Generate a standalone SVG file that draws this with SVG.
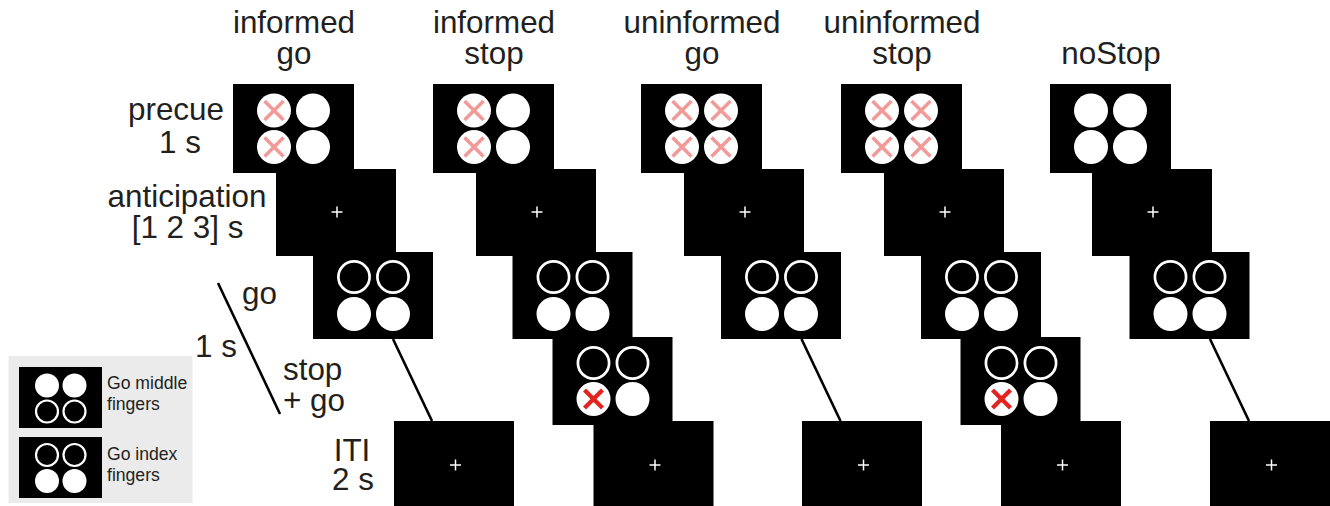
<svg xmlns="http://www.w3.org/2000/svg" xmlns:xlink="http://www.w3.org/1999/xlink" width="1330" height="506" viewBox="0 0 1330 506">
<style>
.lbl{font-family:"Liberation Sans",Arial,Helvetica,sans-serif;font-size:31.4px;fill:#231f20}
.mid{text-anchor:middle}
.leg{font-family:"Liberation Sans",Arial,Helvetica,sans-serif;font-size:17.6px;fill:#231f20}
.scr{fill:#000}
.dot{fill:#fff}
.ring{fill:none;stroke:#fff;stroke-width:2.7}
.ringS{fill:none;stroke:#fff;stroke-width:2.2}
.pinkx{stroke:#f29a98;stroke-width:3.6;fill:none}
.redx{stroke:#e3231f;stroke-width:4.2;fill:none}
.fix{stroke:#fff;stroke-width:1.5;fill:none}
.conn{stroke:#000;stroke-width:2.6;fill:none}
</style>
<defs>
<g id="px"><line class="pinkx" x1="-9.5" y1="-9.5" x2="9.5" y2="9.5"/><line class="pinkx" x1="-9.5" y1="9.5" x2="9.5" y2="-9.5"/></g>
<g id="rx"><line class="redx" x1="-9" y1="-9" x2="9" y2="9"/><line class="redx" x1="-9" y1="9" x2="9" y2="-9"/></g>
<g id="plus"><line class="fix" x1="-5.5" y1="0" x2="5.5" y2="0"/><line class="fix" x1="0" y1="-5.5" x2="0" y2="5.5"/></g>
<g id="precue">
<rect class="scr" x="0" y="0" width="121" height="89"/>
<circle class="dot" cx="41" cy="26.5" r="17"/><circle class="dot" cx="80" cy="26.5" r="17"/>
<circle class="dot" cx="41" cy="63" r="17"/><circle class="dot" cx="80" cy="63" r="17"/>
</g>
<g id="fixscr"><rect class="scr" x="0" y="0" width="120" height="87"/><use xlink:href="#plus" x="61" y="43"/></g>
<g id="goscr">
<rect class="scr" x="0" y="0" width="120" height="87"/>
<circle class="ring" cx="41" cy="25" r="15.6"/><circle class="ring" cx="80" cy="25" r="15.6"/>
<circle class="dot" cx="41" cy="62" r="17"/><circle class="dot" cx="80" cy="62" r="17"/>
</g>
<g id="stopscr">
<rect class="scr" x="0" y="0" width="120" height="88"/>
<circle class="ring" cx="41" cy="26" r="15.6"/><circle class="ring" cx="80" cy="26" r="15.6"/>
<circle class="dot" cx="41" cy="62" r="17"/><circle class="dot" cx="80" cy="62" r="17"/>
<use xlink:href="#rx" x="41" y="62"/>
</g>
<g id="itiscr"><rect class="scr" x="0" y="0" width="120" height="90"/><use xlink:href="#plus" x="61.5" y="44"/></g>
</defs>

<g id="row-labels">
<text class="lbl mid"><tspan x="176" y="120">precue</tspan><tspan x="180" y="153">1 s</tspan></text>
<text class="lbl mid"><tspan x="187" y="207">anticipation</tspan><tspan x="187.5" y="238">[1 2 3] s</tspan></text>
<text class="lbl" x="242" y="304">go</text>
<text class="lbl" x="195" y="357">1 s</text>
<text class="lbl"><tspan x="283" y="380">stop</tspan><tspan x="283" y="411">+ go</tspan></text>
<text class="lbl mid"><tspan x="352" y="461">ITI</tspan><tspan x="353" y="490">2 s</tspan></text>
<line class="conn" x1="218" y1="283" x2="280" y2="414"/>
</g>

<g id="col-informed-go">
<text class="lbl mid"><tspan x="294" y="33">informed</tspan><tspan x="294" y="63.5">go</tspan></text>
<g id="ig-precue" transform="translate(233,84)"><use xlink:href="#precue"/><use xlink:href="#px" x="41" y="26.5"/><use xlink:href="#px" x="41" y="63"/></g>
<g id="ig-anticipation" transform="translate(276,169)"><use xlink:href="#fixscr"/></g>
<g id="ig-go" transform="translate(313,252)"><use xlink:href="#goscr"/></g>
<g id="ig-iti" transform="translate(394,421)"><use xlink:href="#itiscr"/></g>
</g>

<g id="col-informed-stop">
<text class="lbl mid"><tspan x="494" y="33">informed</tspan><tspan x="494" y="63.5">stop</tspan></text>
<g id="is-precue" transform="translate(433,84)"><use xlink:href="#precue"/><use xlink:href="#px" x="41" y="26.5"/><use xlink:href="#px" x="41" y="63"/></g>
<g id="is-anticipation" transform="translate(476,169)"><use xlink:href="#fixscr"/></g>
<g id="is-go" transform="translate(512.5,252)"><use xlink:href="#goscr"/></g>
<g id="is-stop" transform="translate(552.5,337)"><use xlink:href="#stopscr"/></g>
<g id="is-iti" transform="translate(593.5,421)"><use xlink:href="#itiscr"/></g>
</g>

<g id="col-uninformed-go">
<text class="lbl mid"><tspan x="702" y="33">uninformed</tspan><tspan x="702" y="63.5">go</tspan></text>
<g id="ug-precue" transform="translate(641,84)"><use xlink:href="#precue"/><use xlink:href="#px" x="41" y="26.5"/><use xlink:href="#px" x="80" y="26.5"/><use xlink:href="#px" x="41" y="63"/><use xlink:href="#px" x="80" y="63"/></g>
<g id="ug-anticipation" transform="translate(684,169)"><use xlink:href="#fixscr"/></g>
<g id="ug-go" transform="translate(721,252)"><use xlink:href="#goscr"/></g>
<g id="ug-iti" transform="translate(802,421)"><use xlink:href="#itiscr"/></g>
</g>

<g id="col-uninformed-stop">
<text class="lbl mid"><tspan x="902" y="33">uninformed</tspan><tspan x="902" y="63.5">stop</tspan></text>
<g id="us-precue" transform="translate(841,84)"><use xlink:href="#precue"/><use xlink:href="#px" x="41" y="26.5"/><use xlink:href="#px" x="80" y="26.5"/><use xlink:href="#px" x="41" y="63"/><use xlink:href="#px" x="80" y="63"/></g>
<g id="us-anticipation" transform="translate(884,169)"><use xlink:href="#fixscr"/></g>
<g id="us-go" transform="translate(921,252)"><use xlink:href="#goscr"/></g>
<g id="us-stop" transform="translate(960.5,337)"><use xlink:href="#stopscr"/></g>
<g id="us-iti" transform="translate(1001,421)"><use xlink:href="#itiscr"/></g>
</g>

<g id="col-nostop">
<text class="lbl mid" x="1111" y="64">noStop</text>
<g id="ns-precue" transform="translate(1050,84)"><use xlink:href="#precue"/></g>
<g id="ns-anticipation" transform="translate(1092,169)"><use xlink:href="#fixscr"/></g>
<g id="ns-go" transform="translate(1129.5,252)"><use xlink:href="#goscr"/></g>
<g id="ns-iti" transform="translate(1210,421)"><use xlink:href="#itiscr"/></g>
</g>

<g id="connectors">
<line class="conn" x1="393" y1="339" x2="432" y2="421"/>
<line class="conn" x1="801.5" y1="339" x2="840.5" y2="421"/>
<line class="conn" x1="1210" y1="339" x2="1249" y2="421"/>
</g>

<g id="legend">
<rect x="8.5" y="356" width="184" height="147" fill="#ebebeb"/>
<g id="legend-middle">
<rect class="scr" x="19" y="367" width="83" height="61"/>
<circle class="dot" cx="47" cy="385.5" r="12"/><circle class="dot" cx="74.5" cy="385.5" r="12"/>
<circle class="ringS" cx="47" cy="411.5" r="11"/><circle class="ringS" cx="74.5" cy="411.5" r="11"/>
<text class="leg"><tspan x="107" y="388.5">Go middle</tspan><tspan x="107" y="409.5">fingers</tspan></text>
</g>
<g id="legend-index">
<rect class="scr" x="19" y="437" width="83" height="61"/>
<circle class="ringS" cx="47" cy="455" r="11"/><circle class="ringS" cx="74.5" cy="455" r="11"/>
<circle class="dot" cx="47" cy="481" r="12"/><circle class="dot" cx="74.5" cy="481" r="12"/>
<text class="leg"><tspan x="107" y="460">Go index</tspan><tspan x="107" y="481">fingers</tspan></text>
</g>
</g>
</svg>
